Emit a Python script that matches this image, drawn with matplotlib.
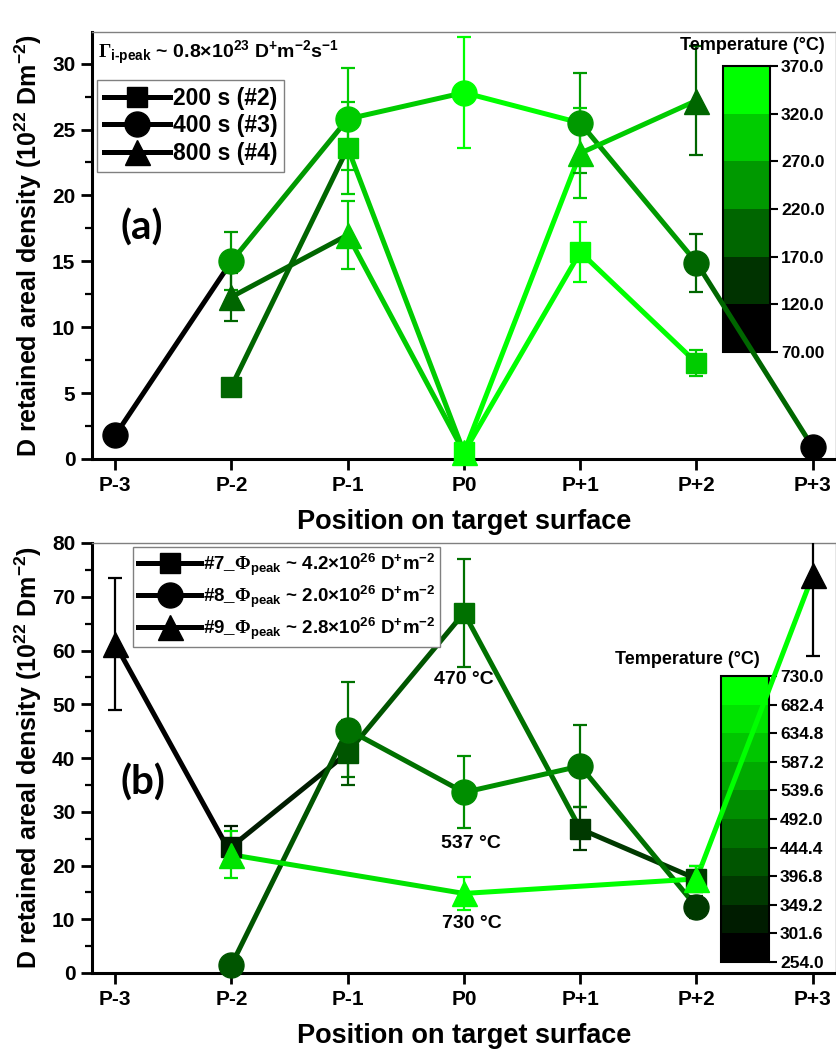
import numpy as np
import matplotlib
matplotlib.use('Agg')
import matplotlib.pyplot as plt
from matplotlib.colors import ListedColormap, BoundaryNorm
from matplotlib.lines import Line2D
from matplotlib.cm import ScalarMappable

plt.rcParams['font.family'] = ['Liberation Sans', 'DejaVu Sans']
plt.rcParams['font.weight'] = 'bold'
plt.rcParams['axes.labelweight'] = 'bold'
plt.rcParams['mathtext.fontset'] = 'custom'
plt.rcParams['mathtext.rm'] = 'Liberation Sans:bold'
plt.rcParams['mathtext.it'] = 'Liberation Sans:bold'
plt.rcParams['mathtext.bf'] = 'Liberation Sans:bold'
plt.rcParams['mathtext.sf'] = 'Liberation Serif'
plt.rcParams['mathtext.default'] = 'rm'

# ---------------- data ----------------
positions = ['P-3', 'P-2', 'P-1', 'P0', 'P+1', 'P+2', 'P+3']
nan = np.nan

# panel (a)
a_sq_val = [nan, 5.5, 23.6, 0.5, 15.7, 7.3, nan]
a_sq_err = [nan, 0.0, 3.5, 0.0, 2.3, 1.0, nan]
a_sq_temp = [nan, 200, 300, 350, 340, 300, nan]

a_ci_val = [1.8, 15.0, 25.8, 27.8, 25.5, 14.9, 0.9]
a_ci_err = [0.0, 2.2, 3.9, 4.2, 3.8, 2.2, 0.0]
a_ci_temp = [90, 240, 300, 350, 260, 210, 90]

a_tr_val = [nan, 12.3, 17.0, 0.5, 23.2, 27.2, nan]
a_tr_err = [nan, 1.8, 2.6, 0.0, 3.4, 4.1, nan]
a_tr_temp = [nan, 200, 300, 350, 300, 200, nan]

a_bounds = [70, 120, 170, 220, 270, 320, 370]
a_ticklabels = ['70.00', '120.0', '170.0', '220.0', '270.0', '320.0', '370.0']
a_legend = ['200 s (#2)', '400 s (#3)', '800 s (#4)']

# panel (b)
b_sq_val = [nan, 23.5, 41.0, 67.0, 26.8, 17.5, nan]
b_sq_err = [nan, 3.8, 6.0, 10.0, 4.0, 2.5, nan]
b_sq_temp = [nan, 320, 420, 470, 370, 380, nan]

b_ci_val = [nan, 1.5, 45.3, 33.6, 38.5, 12.3, nan]
b_ci_err = [nan, 0.0, 8.8, 6.7, 7.7, 2.0, nan]
b_ci_temp = [nan, 410, 470, 537, 470, 350, nan]

b_tr_val = [61.2, 22.0, nan, 14.8, nan, 17.5, 74.0]
b_tr_err = [12.3, 4.4, nan, 3.0, nan, 2.5, 15.0]
b_tr_temp = [260, 660, nan, 730, nan, 700, 260]

b_bounds = [254.0, 301.6, 349.2, 396.8, 444.4, 492.0, 539.6, 587.2, 634.8, 682.4, 730.0]
b_ticklabels = ['%.1f' % v for v in b_bounds]
b_legend = [r'#7_$\mathsf{\Phi}_{peak}$ ~ 4.2×10$^{26}$ D$^{+}$m$^{-2}$',
            r'#8_$\mathsf{\Phi}_{peak}$ ~ 2.0×10$^{26}$ D$^{+}$m$^{-2}$',
            r'#9_$\mathsf{\Phi}_{peak}$ ~ 2.8×10$^{26}$ D$^{+}$m$^{-2}$']
b_annot_text = ['470 °C', '537 °C', '730 °C']

# ---------------- figure ----------------
W, H = 837, 1052
fig = plt.figure(figsize=(W / 100, H / 100), dpi=100)


def fbox(x0, y0, x1, y1):
    return [x0 / W, 1 - y1 / H, (x1 - x0) / W, (y1 - y0) / H]


def make_cmap(n):
    g = np.linspace(0, 1, n)
    return ListedColormap([(0, v, 0) for v in g])


cmap_a = make_cmap(len(a_bounds) - 1)
norm_a = BoundaryNorm(a_bounds, cmap_a.N)
cmap_b = make_cmap(len(b_bounds) - 1)
norm_b = BoundaryNorm(b_bounds, cmap_b.N)

MS = {'s': 15, 'o': 18, '^': 18}


def draw_series(ax, vals, errs, temps, cmap, norm, marker):
    x = np.arange(len(vals))
    idx = [i for i in range(len(vals)) if not np.isnan(vals[i])]
    for k in range(len(idx) - 1):
        i, j = idx[k], idx[k + 1]
        ax.plot([x[i], x[j]], [vals[i], vals[j]], color=cmap(norm(temps[i])),
                lw=3.6, solid_capstyle='round', zorder=2)
    for i in idx:
        c = cmap(norm(temps[i]))
        if errs[i] > 0:
            ax.errorbar(x[i], vals[i], yerr=errs[i], fmt='none', ecolor=c,
                        elinewidth=1.6, capsize=5, capthick=1.6, zorder=3)
        ax.plot(x[i], vals[i], marker=marker, ms=MS[marker], color=c, mec=c,
                ls='none', zorder=4, clip_on=False)


def style_axes(ax, ylim, major, minor):
    ax.set_facecolor('none')
    ax.set_xlim(-0.2, 6.2)
    ax.set_ylim(*ylim)
    ax.set_xticks(range(len(positions)))
    ax.set_xticklabels(positions)
    ax.set_yticks(np.arange(ylim[0], ylim[1] + 0.01, major))
    ax.set_yticks(np.arange(ylim[0], ylim[1] + 0.01, minor), minor=True)
    ax.tick_params(axis='both', which='major', direction='out', length=8, width=2,
                   labelsize=15, pad=4)
    ax.tick_params(axis='both', which='minor', direction='out', length=5, width=1.6)
    ax.tick_params(axis='x', which='minor', bottom=False)
    for s in ['left', 'bottom']:
        ax.spines[s].set_linewidth(2.2)
        ax.spines[s].set_color('black')
    for s in ['top', 'right']:
        ax.spines[s].set_linewidth(1.0)
        ax.spines[s].set_color('#808080')
    ax.set_xlabel('Position on target surface', fontsize=19.5, labelpad=10)
    ax.set_ylabel(r'D retained areal density (10$^{22}$ Dm$^{-2}$)', fontsize=18, labelpad=6)


def add_colorbar(box, cmap, norm, bounds, labels, title_xy, axes_z=1):
    cax = fig.add_axes(fbox(*box))
    cax.set_zorder(axes_z)
    sm = ScalarMappable(norm=norm, cmap=cmap)
    cb = fig.colorbar(sm, cax=cax, ticks=bounds, spacing='uniform')
    cb.set_ticklabels(labels)
    cb.outline.set_linewidth(1.5)
    cax.tick_params(length=6, width=1.5, labelsize=12.5, pad=2)
    fig.text(title_xy[0] / W, 1 - title_xy[1] / H, 'Temperature (°C)', ha='center',
             va='center', fontsize=13, fontweight='bold')
    return cax


# ---------------- panel (a) ----------------
axA = fig.add_axes(fbox(92, 32, 836, 459))
axA.set_zorder(2)
add_colorbar((723, 66, 770, 352), cmap_a, norm_a, a_bounds, a_ticklabels, (752, 45))
draw_series(axA, a_sq_val, a_sq_err, a_sq_temp, cmap_a, norm_a, 's')
draw_series(axA, a_ci_val, a_ci_err, a_ci_temp, cmap_a, norm_a, 'o')
draw_series(axA, a_tr_val, a_tr_err, a_tr_temp, cmap_a, norm_a, '^')
style_axes(axA, (0, 32.4), 5, 2.5)

handles = [Line2D([], [], color='black', lw=3.6, marker=m, ms=MS[m]) for m in ['s', 'o', '^']]
legA = axA.legend(handles, a_legend, loc='upper left', bbox_to_anchor=(97 / W, 1 - 80 / H),
                  bbox_transform=fig.transFigure, borderaxespad=0, fontsize=16.5,
                  handlelength=2.9, handletextpad=0.1, labelspacing=0.2, borderpad=0.3,
                  fancybox=False, framealpha=1, edgecolor='#808080')
legA.get_frame().set_linewidth(1.0)

fig.text(98 / W, 1 - 53 / H,
         r'$\mathsf{\Gamma}_{\mathrm{i‐peak}}$ ~ 0.8×10$^{23}$ D$^{+}$m$^{-2}$s$^{-1}$',
         ha='left', va='center', fontsize=14, fontweight='bold')
fig.text(142 / W, 1 - 228 / H, '(a)', ha='center', va='center', fontsize=29,
         fontweight='bold', family='Lato')

# ---------------- panel (b) ----------------
axB = fig.add_axes(fbox(92, 543, 836, 973))
axB.set_zorder(2)
add_colorbar((721, 676, 769, 962), cmap_b, norm_b, b_bounds, b_ticklabels, (687, 660))
draw_series(axB, b_sq_val, b_sq_err, b_sq_temp, cmap_b, norm_b, 's')
draw_series(axB, b_ci_val, b_ci_err, b_ci_temp, cmap_b, norm_b, 'o')
draw_series(axB, b_tr_val, b_tr_err, b_tr_temp, cmap_b, norm_b, '^')
style_axes(axB, (0, 80), 10, 5)

legB = axB.legend(handles, b_legend, loc='upper left', bbox_to_anchor=(133 / W, 1 - 547 / H),
                  bbox_transform=fig.transFigure, borderaxespad=0, fontsize=13.5,
                  handlelength=3.4, handletextpad=0.1, labelspacing=0.3, borderpad=0.25,
                  fancybox=False, framealpha=1, edgecolor='#808080')
legB.get_frame().set_linewidth(1.0)

annot_xy = [(464, 680), (471, 844), (472, 923)]
for (px, py), t in zip(annot_xy, b_annot_text):
    fig.text(px / W, 1 - py / H, t, ha='center', va='center', fontsize=14, fontweight='bold')

fig.text(143 / W, 1 - 783 / H, '(b)', ha='center', va='center', fontsize=29,
         fontweight='bold', family='Lato')

fig.savefig('out.png', dpi=100, facecolor='white')
